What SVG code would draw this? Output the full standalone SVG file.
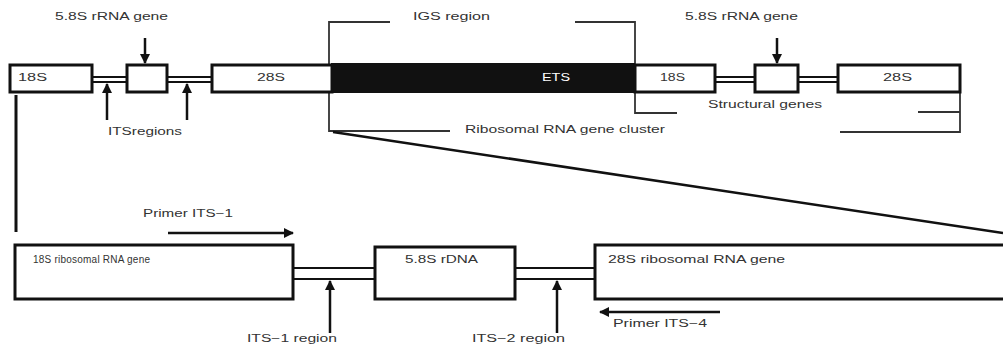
<svg xmlns="http://www.w3.org/2000/svg" width="1003" height="350" viewBox="0 0 1003 350">
<style>
.box{fill:#fff;stroke:#111;stroke-width:3}
.dl{stroke:#111;stroke-width:2;fill:none}
.br{stroke:#333;stroke-width:1.8;fill:none}
.ar{stroke:#111;stroke-width:2.5;fill:none}
text{font-family:"Liberation Sans",Arial,sans-serif;font-size:10px;fill:#333}
</style>
<defs>
<marker id="ah" viewBox="0 0 10 10" refX="9" refY="5" markerWidth="4" markerHeight="4" orient="auto" markerUnits="strokeWidth">
<path d="M0,0 L10,5 L0,10 z" fill="#111"/>
</marker>
</defs>
<rect width="1003" height="350" fill="#fff"/>

<g id="connectors">
<path class="dl" d="M92,77 H127 M92,82 H127 M167,77 H212 M167,82 H212 M715,77 H755 M715,82 H755 M798,77 H838 M798,82 H838"/>
<line class="ar" x1="145" y1="38" x2="145" y2="63" marker-end="url(#ah)"/>
<line class="ar" x1="107" y1="120" x2="107" y2="84" marker-end="url(#ah)"/>
<line class="ar" x1="187" y1="120" x2="187" y2="84" marker-end="url(#ah)"/>
<line class="ar" x1="777" y1="38" x2="777" y2="63" marker-end="url(#ah)"/>
<path class="br" d="M390,22 H329 V131 H450"/>
<path class="br" d="M575,22 H635 V113 H677"/>
<path class="br" d="M918,112 H960 V92 M960,112 V132 H840"/>
<line x1="16" y1="95" x2="16" y2="232" stroke="#111" stroke-width="3"/>
<line x1="333" y1="132" x2="1003" y2="233" stroke="#111" stroke-width="2.5"/>
<path class="dl" d="M293,268 H375 M293,279 H375 M515,268 H595 M515,279 H595"/>
<line class="ar" x1="168" y1="233" x2="293" y2="233" marker-end="url(#ah)"/>
<line class="ar" x1="720" y1="312" x2="600" y2="312" marker-end="url(#ah)"/>
<line class="ar" x1="330" y1="333" x2="330" y2="281" marker-end="url(#ah)"/>
<line class="ar" x1="557" y1="333" x2="557" y2="281" marker-end="url(#ah)"/>
</g>

<g id="n18S_top"><rect class="box" x="10" y="65" width="82" height="27"/><text x="18" y="81" textLength="29" lengthAdjust="spacingAndGlyphs">18S</text></g>
<g id="n58S_top"><rect class="box" x="127" y="65" width="40" height="27"/></g>
<g id="n28S_top"><rect class="box" x="212" y="65" width="120" height="27"/><text x="257" y="81" textLength="28" lengthAdjust="spacingAndGlyphs">28S</text></g>
<g id="nETS"><rect x="331" y="63" width="304" height="30" fill="#111"/><text x="542" y="81" textLength="28" lengthAdjust="spacingAndGlyphs" style="fill:#fff">ETS</text></g>
<g id="n18S_top2"><rect class="box" x="635" y="65" width="80" height="27"/><text x="660" y="81" textLength="25" lengthAdjust="spacingAndGlyphs">18S</text></g>
<g id="n58S_top2"><rect class="box" x="755" y="65" width="43" height="27"/></g>
<g id="n28S_top2"><rect class="box" x="838" y="65" width="122" height="27"/><text x="883" y="81" textLength="29" lengthAdjust="spacingAndGlyphs">28S</text></g>

<g id="labels_top">
<text x="55" y="20" textLength="113" lengthAdjust="spacingAndGlyphs">5.8S rRNA gene</text>
<text x="413" y="20" textLength="77" lengthAdjust="spacingAndGlyphs">IGS region</text>
<text x="685" y="20" textLength="113" lengthAdjust="spacingAndGlyphs">5.8S rRNA gene</text>
<text x="108" y="135" textLength="74" lengthAdjust="spacingAndGlyphs">ITSregions</text>
<text x="465" y="133" textLength="200" lengthAdjust="spacingAndGlyphs">Ribosomal RNA gene cluster</text>
<text x="708" y="108" textLength="114" lengthAdjust="spacingAndGlyphs">Structural genes</text>
</g>

<g id="n18S_bottom"><rect class="box" x="15" y="245" width="278" height="54"/><text x="33" y="263" textLength="117" lengthAdjust="spacing">18S ribosomal RNA gene</text></g>
<g id="n58S_bottom"><rect class="box" x="375" y="247" width="140" height="52"/><text x="405" y="263" textLength="73" lengthAdjust="spacingAndGlyphs">5.8S rDNA</text></g>
<g id="n28S_bottom"><rect class="box" x="595" y="245" width="420" height="54"/><text x="608" y="263" textLength="177" lengthAdjust="spacingAndGlyphs">28S ribosomal RNA gene</text></g>

<g id="labels_bottom">
<text x="143" y="217" textLength="90" lengthAdjust="spacingAndGlyphs">Primer ITS−1</text>
<text x="613" y="327" textLength="94" lengthAdjust="spacingAndGlyphs">Primer ITS−4</text>
<text x="247" y="342" textLength="90" lengthAdjust="spacingAndGlyphs">ITS−1 region</text>
<text x="472" y="342" textLength="93" lengthAdjust="spacingAndGlyphs">ITS−2 region</text>
</g>
</svg>
